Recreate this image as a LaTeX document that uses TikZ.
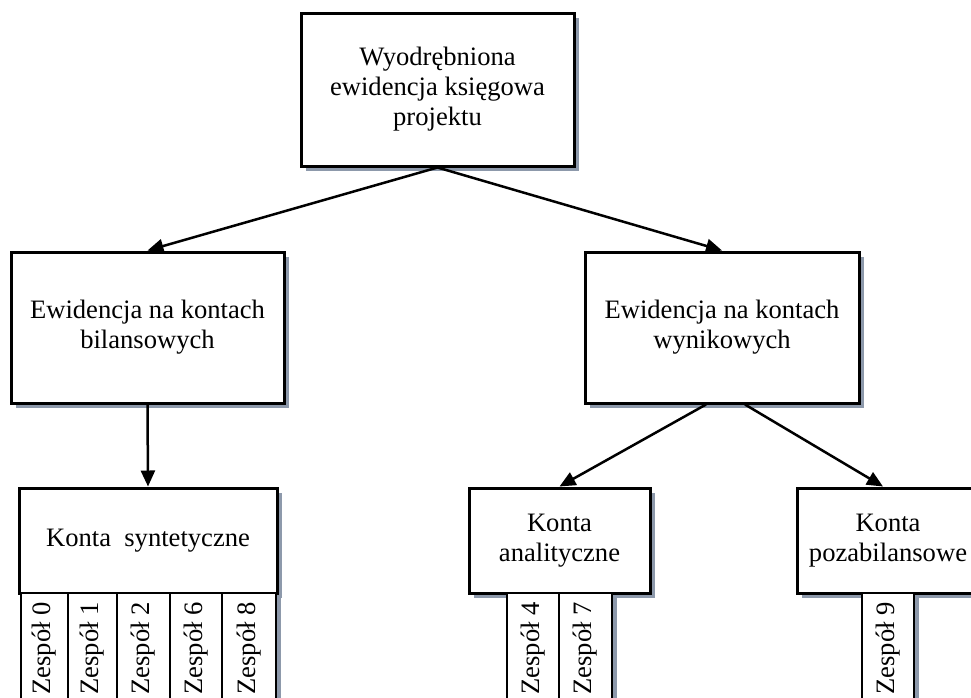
\documentclass[tikz,border=0pt]{standalone}
\usepackage{fontspec}
\setmainfont{Liberation Serif}
\usetikzlibrary{arrows.meta,shadows}
\definecolor{shadowblue}{HTML}{8D99AB}
\tikzset{
  boxshadow/.style={drop shadow={shadow xshift=5pt, shadow yshift=-5pt, fill=shadowblue, opacity=1}},
  box/.style={draw=black, line width=3pt, fill=white, align=center, inner sep=0pt,
    font=\fontsize{26.6pt}{30pt}\selectfont, boxshadow},
  colcell/.style={draw=black, line width=2pt, fill=white, boxshadow},
  coltext/.style={rotate=90, anchor=east, inner sep=0pt, font=\fontsize{26.6pt}{30pt}\selectfont},
  link/.style={line width=2.5pt, -{Triangle[length=16pt,width=14pt]}},
}
\begin{document}
\begin{tikzpicture}[x=1pt, y=-1pt]
  \clip (0,0) rectangle (971,697);
  \fill[white] (0,0) rectangle (971,697);

  % main boxes
  \node[box, minimum width=273pt, minimum height=153pt] (root) at (437.5,89.5)
    {Wyodrębniona\\ewidencja księgowa\\projektu};
  \node[box, minimum width=273pt, minimum height=151pt] (bil) at (147.5,327.5)
    {Ewidencja na kontach\\bilansowych};
  \node[box, minimum width=274pt, minimum height=151pt] (wyn) at (722,327.5)
    {Ewidencja na kontach\\wynikowych};
  \node[box, minimum width=258pt, minimum height=105pt] (syn) at (148,540.5)
    {Konta~~syntetyczne};
  \node[box, minimum width=181pt, minimum height=105pt] (ana) at (559.5,540.5)
    {Konta\\analityczne};
  \node[box, minimum width=182pt, minimum height=105pt] (poza) at (888,540.5)
    {Konta\\pozabilansowe};

  % groups of accounts hanging below the boxes
  \foreach \xa/\xb/\lab/\nm in {21/68/0/z0, 68/117/1/z1, 117/170/2/z2, 170/222/6/z6, 222/276/8/z8,
                                507/559/4/z4, 559/612/7/z7, 862/914/9/z9} {
    \path[colcell] (\xa,593) rectangle (\xb,730);
    \node[coltext] (\nm) at ({(\xa+\xb)/2},602) {Zespół \lab};
  }

  % connectors
  \draw[link] (root.south) -- (bil.north);
  \draw[link] (root.south) -- (wyn.north);
  \draw[link] (bil.south) -- (syn.north);
  \draw[link] ([xshift=-16pt]wyn.south) -- (ana.north);
  \draw[link] ([xshift=23pt]wyn.south) -- ([xshift=-5pt]poza.north);
\end{tikzpicture}
\end{document}
